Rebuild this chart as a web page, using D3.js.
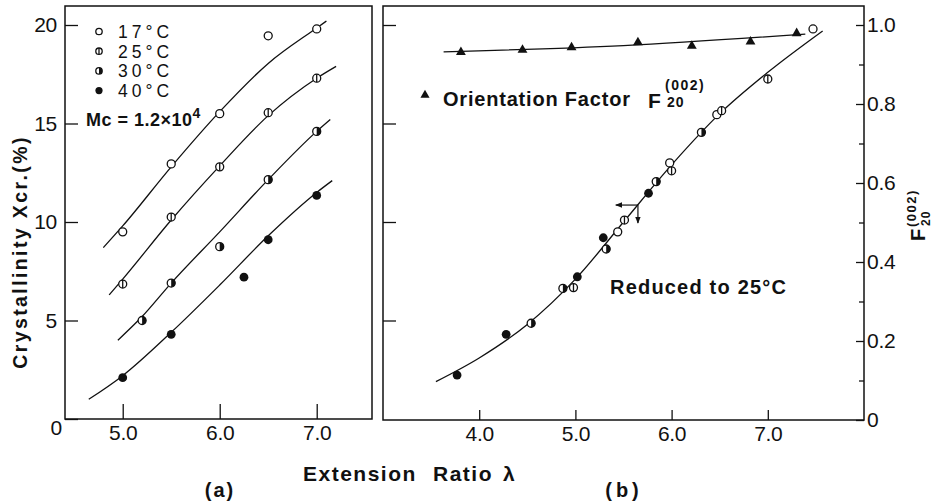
<!DOCTYPE html>
<html>
<head>
<meta charset="utf-8">
<script src="https://cdn.jsdelivr.net/npm/d3@7"></script>
<style>
  body { margin: 0; background: #fff; }
  svg { display: block; }
  text { font-family: "Liberation Sans", Arial, sans-serif; fill: #111; }
</style>
</head>
<body>
<svg id="chart" width="934" height="503"></svg>
<script>
// ---------------- data ----------------
const xTicksA = [5.0, 6.0, 7.0];
const xTicksB = [4.0, 5.0, 6.0, 7.0];
const yTicksXcr = [0, 5, 10, 15, 20];
const yTicksF = [0, 0.2, 0.4, 0.6, 0.8, 1.0];
const yMinorF = [0.1, 0.3, 0.5, 0.7, 0.9];

const tempLabels = ["17°C", "25°C", "30°C", "40°C"];
const markerKinds = ["open", "bar", "half", "filled"];

// (a) crystallinity vs extension ratio at each temperature
const lambda17 = [5.0, 5.5, 6.0, 6.5, 7.0];
const xcr17    = [9.5, 12.95, 15.5, 19.45, 19.8];
const lambda25 = [5.0, 5.5, 6.0, 6.5, 7.0];
const xcr25    = [6.85, 10.25, 12.8, 15.55, 17.3];
const lambda30 = [5.2, 5.5, 6.0, 6.5, 7.0];
const xcr30    = [5.0, 6.9, 8.75, 12.15, 14.6];
const lambda40 = [5.0, 5.5, 6.25, 6.5, 7.0];
const xcr40    = [2.1, 4.3, 7.2, 9.1, 11.35];

// (a) smooth curves drawn through each temperature set
const fitLambda17 = [4.8, 5.0, 5.5, 6.0, 6.5, 7.0, 7.1];
const fitXcr17    = [8.7, 9.8, 12.8, 15.6, 18.05, 19.85, 20.2];
const fitLambda25 = [4.86, 5.0, 5.5, 6.0, 6.5, 7.0, 7.2];
const fitXcr25    = [6.3, 7.1, 10.1, 12.85, 15.4, 17.3, 17.9];
const fitLambda30 = [4.95, 5.2, 5.5, 6.0, 6.5, 7.0, 7.14];
const fitXcr30    = [4.0, 5.2, 6.9, 9.5, 12.15, 14.6, 15.2];
const fitLambda40 = [4.65, 5.0, 5.5, 6.0, 6.5, 7.0, 7.16];
const fitXcr40    = [1.0, 2.2, 4.4, 6.8, 9.3, 11.5, 12.1];

// (b) the same data shifted along lambda, reduced to 25°C
const redLambda17 = [5.44, 5.98, 6.47, 7.47];
const redXcr17    = [9.5, 13.0, 15.45, 19.8];
const redLambda25 = [4.98, 5.51, 6.0, 6.52, 7.0];
const redXcr25    = [6.67, 10.1, 12.6, 15.65, 17.26];
const redLambda30 = [4.54, 4.87, 5.32, 5.84, 6.31];
const redXcr30    = [4.86, 6.63, 8.63, 12.05, 14.55];
const redLambda40 = [3.77, 4.28, 5.02, 5.29, 5.76];
const redXcr40    = [2.23, 4.3, 7.22, 9.2, 11.46];

// (b) master curve
const masterLambda = [3.55, 4.0, 4.5, 5.0, 5.5, 6.0, 6.5, 7.0, 7.57];
const masterXcr    = [1.9, 3.1, 4.8, 7.1, 10.0, 12.9, 15.5, 17.6, 19.7];

// (b) orientation factor F20(002)
const orientLambda = [3.81, 4.45, 4.96, 5.65, 6.21, 6.82, 7.30];
const orientF      = [0.931, 0.937, 0.943, 0.956, 0.947, 0.958, 0.979];
const orientLineLambda = [3.63, 5.5, 7.39];
const orientLineF      = [0.932, 0.948, 0.977];

// (b) axis-pointer arrows on the master curve
const arrowFrom  = [5.65, 10.86];
const arrowLeftTo = 5.42;
const arrowDownTo = 9.95;

// ---------------- layout ----------------
const svg = d3.select("#chart");
const INK = "#111";

const xa = d3.scaleLinear().domain([4.405, 7.57]).range([65, 372]);
const ya = d3.scaleLinear().domain([0, 20]).range([419, 25]);
const xb = d3.scaleLinear().domain([3.0, 8.0]).range([383, 864]);
const yb = d3.scaleLinear().domain([0, 1]).range([420, 25]);
const yTop = 6;

const zip = (xs, ys) => xs.map((x, i) => [x, ys[i]]);

const setsA = [
  { kind: "open",   pts: zip(lambda17, xcr17), fit: zip(fitLambda17, fitXcr17) },
  { kind: "bar",    pts: zip(lambda25, xcr25), fit: zip(fitLambda25, fitXcr25) },
  { kind: "half",   pts: zip(lambda30, xcr30), fit: zip(fitLambda30, fitXcr30) },
  { kind: "filled", pts: zip(lambda40, xcr40), fit: zip(fitLambda40, fitXcr40) }
];
const setsB = [
  { kind: "open",   pts: zip(redLambda17, redXcr17) },
  { kind: "bar",    pts: zip(redLambda25, redXcr25) },
  { kind: "half",   pts: zip(redLambda30, redXcr30) },
  { kind: "filled", pts: zip(redLambda40, redXcr40) }
];

function drawMarker(g, kind, cx, cy, r) {
  const m = g.append("g");
  if (kind === "filled") {
    m.append("circle").attr("cx", cx).attr("cy", cy).attr("r", r + 0.4)
      .attr("fill", INK);
    return;
  }
  m.append("circle").attr("cx", cx).attr("cy", cy).attr("r", r)
    .attr("fill", "#fff").attr("stroke", INK).attr("stroke-width", 1.3);
  if (kind === "bar") {
    m.append("line").attr("x1", cx).attr("x2", cx)
      .attr("y1", cy - r).attr("y2", cy + r)
      .attr("stroke", INK).attr("stroke-width", 1.3);
  } else if (kind === "half") {
    m.append("path")
      .attr("d", `M${cx},${cy - r} A${r},${r} 0 0 1 ${cx},${cy + r} Z`)
      .attr("fill", INK);
  }
}

const curve = d3.curveMonotoneX;

// ---------------- frames ----------------
function frame(x0, x1, y0, y1) {
  svg.append("rect").attr("x", x0).attr("y", y0)
    .attr("width", x1 - x0).attr("height", y1 - y0)
    .attr("fill", "none").attr("stroke", INK).attr("stroke-width", 1.5);
}
frame(xa.range()[0], xa.range()[1], yTop, ya(0));
frame(xb.range()[0], xb.range()[1], yTop, yb(0));

function styleAxis(g) {
  g.select(".domain").remove();
  g.selectAll(".tick line").attr("stroke", INK).attr("stroke-width", 1.3);
  g.selectAll(".tick text")
    .attr("fill", INK)
    .style("font-family", '"Liberation Sans", Arial, sans-serif')
    .style("font-size", "21px")
    .style("letter-spacing", "-0.3px");
}

// ---------------- panel (a) axes ----------------
const axLeftA = svg.append("g").attr("transform", `translate(${xa.range()[0]},0)`)
  .call(d3.axisLeft(ya).tickValues(yTicksXcr).tickSize(-13).tickPadding(8)
    .tickFormat(d3.format("d")));
styleAxis(axLeftA);
axLeftA.selectAll(".tick text").filter(d => d === 0).attr("dy", "0.75em").attr("x", -3);

const axBottomA = svg.append("g").attr("transform", `translate(0,${ya(0)})`)
  .call(d3.axisBottom(xa).tickValues(xTicksA).tickSize(-15).tickPadding(6)
    .tickFormat(d3.format(".1f")));
styleAxis(axBottomA);

// ---------------- panel (b) axes ----------------
const axLeftB = svg.append("g").attr("transform", `translate(${xb.range()[0]},0)`)
  .call(d3.axisLeft(ya).tickValues(yTicksXcr.filter(d => d > 0)).tickSize(-13).tickFormat(""));
styleAxis(axLeftB);

const axBottomB = svg.append("g").attr("transform", `translate(0,${yb(0)})`)
  .call(d3.axisBottom(xb).tickValues(xTicksB).tickSize(-10).tickPadding(6)
    .tickFormat(d3.format(".1f")));
styleAxis(axBottomB);

const axRightB = svg.append("g").attr("transform", `translate(${xb.range()[1]},0)`)
  .call(d3.axisRight(yb).tickValues(yTicksF).tickSize(-8).tickPadding(3)
    .tickFormat(d => d === 0 ? "0" : d3.format(".1f")(d)));
styleAxis(axRightB);
const axRightMinor = svg.append("g").attr("transform", `translate(${xb.range()[1]},0)`)
  .call(d3.axisRight(yb).tickValues(yMinorF).tickSize(-5).tickFormat(""));
styleAxis(axRightMinor);

// ---------------- panel (a) curves + points ----------------
const lineA = d3.line().x(d => xa(d[0])).y(d => ya(d[1])).curve(curve);
const gA = svg.append("g");
setsA.forEach(s => {
  gA.append("path").attr("d", lineA(s.fit))
    .attr("fill", "none").attr("stroke", INK).attr("stroke-width", 1.3);
});
setsA.forEach(s => {
  s.pts.forEach(p => drawMarker(gA, s.kind, xa(p[0]), ya(p[1]), 4));
});

// legend
const legend = svg.append("g");
tempLabels.forEach((t, i) => {
  const y = 31.5 + i * 19.7;
  drawMarker(legend, markerKinds[i], 99, y, 3.2);
  legend.append("text").attr("x", 118).attr("y", y + 6.5)
    .style("font-size", "17.5px").style("letter-spacing", "4px")
    .text(t);
});
const mc = legend.append("text").attr("x", 86).attr("y", 126)
  .style("font-size", "18px").style("font-weight", "bold").style("letter-spacing", "0.5px");
mc.append("tspan").text("Mc = 1.2×10");
mc.append("tspan").attr("dy", -8).style("font-size", "14px").text("4");

// ---------------- panel (b) ----------------
const lineBX = d3.line().x(d => xb(d[0])).y(d => ya(d[1])).curve(curve);
const lineBF = d3.line().x(d => xb(d[0])).y(d => yb(d[1])).curve(curve);
const gB = svg.append("g");

gB.append("path").attr("d", lineBX(zip(masterLambda, masterXcr)))
  .attr("fill", "none").attr("stroke", INK).attr("stroke-width", 1.3);
gB.append("path").attr("d", lineBF(zip(orientLineLambda, orientLineF)))
  .attr("fill", "none").attr("stroke", INK).attr("stroke-width", 1.3);

setsB.forEach(s => {
  s.pts.forEach(p => drawMarker(gB, s.kind, xb(p[0]), ya(p[1]), 4));
});

const tri = d3.symbol().type(d3.symbolTriangle).size(42);
orientLambda.forEach((l, i) => {
  gB.append("path").attr("d", tri())
    .attr("transform", `translate(${xb(l)},${yb(orientF[i])})`)
    .attr("fill", INK);
});

// arrows
const defs = svg.append("defs");
defs.append("marker").attr("id", "arrowhead")
  .attr("viewBox", "0 0 10 10").attr("refX", 9).attr("refY", 5)
  .attr("markerWidth", 6).attr("markerHeight", 6).attr("orient", "auto")
  .append("path").attr("d", "M0,1 L10,5 L0,9 Z").attr("fill", INK);
const ax0 = xb(arrowFrom[0]), ay0 = ya(arrowFrom[1]);
gB.append("line").attr("x1", ax0).attr("y1", ay0)
  .attr("x2", xb(arrowLeftTo)).attr("y2", ay0)
  .attr("stroke", INK).attr("stroke-width", 1.2).attr("marker-end", "url(#arrowhead)");
gB.append("line").attr("x1", ax0).attr("y1", ay0)
  .attr("x2", ax0).attr("y2", ya(arrowDownTo))
  .attr("stroke", INK).attr("stroke-width", 1.2).attr("marker-end", "url(#arrowhead)");

// orientation factor label
gB.append("path").attr("d", d3.symbol().type(d3.symbolTriangle).size(36)())
  .attr("transform", "translate(425,95)").attr("fill", INK);
gB.append("text").attr("x", 443).attr("y", 106)
  .style("font-size", "20px").style("font-weight", "bold").style("letter-spacing", "0.8px")
  .text("Orientation Factor");
gB.append("text").attr("x", 648).attr("y", 108)
  .style("font-size", "21px").style("font-weight", "bold").text("F");
gB.append("text").attr("x", 665).attr("y", 90)
  .style("font-size", "14px").style("font-weight", "bold").style("letter-spacing", "1.5px")
  .text("(002)");
gB.append("text").attr("x", 667).attr("y", 107)
  .style("font-size", "14px").style("font-weight", "bold").style("letter-spacing", "1px")
  .text("20");

gB.append("text").attr("x", 610).attr("y", 294)
  .style("font-size", "20px").style("font-weight", "bold").style("letter-spacing", "1.2px")
  .text("Reduced to 25°C");

// ---------------- axis titles ----------------
svg.append("text")
  .attr("transform", "translate(27,252) rotate(-90)")
  .attr("text-anchor", "middle")
  .style("font-size", "19.5px").style("font-weight", "bold").style("letter-spacing", "2.4px")
  .text("Crystallinity Xcr.(%)");

const xt = svg.append("text").attr("y", 481)
  .style("font-size", "21px").style("font-weight", "bold").style("letter-spacing", "1.5px");
xt.append("tspan").attr("x", 303).text("Extension");
xt.append("tspan").attr("x", 433).text("Ratio");
xt.append("tspan").attr("x", 503).text("λ");

svg.append("text").attr("x", 220).attr("y", 497).attr("text-anchor", "middle")
  .style("font-size", "20px").style("font-weight", "bold").style("letter-spacing", "2px")
  .text("(a)");
svg.append("text").attr("x", 624).attr("y", 497).attr("text-anchor", "middle")
  .style("font-size", "20px").style("font-weight", "bold").style("letter-spacing", "4px")
  .text("(b)");

const rt = svg.append("g").attr("transform", "translate(925,241) rotate(-90)");
rt.append("text").attr("x", 0).attr("y", 0)
  .style("font-size", "20px").style("font-weight", "bold").text("F");
rt.append("text").attr("x", 14).attr("y", -9)
  .style("font-size", "13px").style("font-weight", "bold").style("letter-spacing", "1.5px")
  .text("(002)");
rt.append("text").attr("x", 15).attr("y", 5)
  .style("font-size", "12px").style("font-weight", "bold").style("letter-spacing", "1px")
  .text("20");
</script>
</body>
</html>
